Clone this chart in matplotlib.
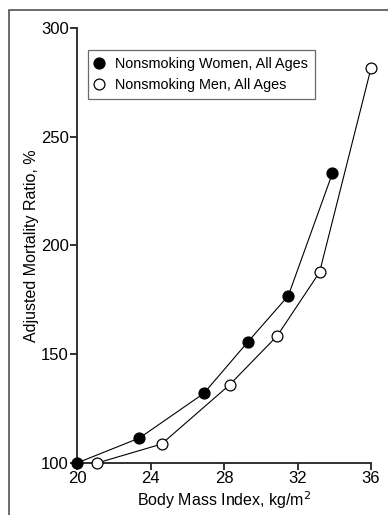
import matplotlib
matplotlib.use('Agg')
import matplotlib.pyplot as plt
from matplotlib.patches import Rectangle

# data
women_bmi = [20.0, 23.4, 26.9, 29.3, 31.5, 33.9]
women_ratio = [100, 111.5, 132, 155.7, 176.9, 233.2]
men_bmi = [21.1, 24.6, 28.3, 30.9, 33.2, 36.0]
men_ratio = [100, 108.7, 135.9, 158.5, 187.7, 281.5]
xticks = [20, 24, 28, 32, 36]
yticks = [100, 150, 200, 250, 300]

plt.rcParams['font.family'] = ['Liberation Sans Narrow', 'Liberation Sans', 'DejaVu Sans']
plt.rcParams['mathtext.fontset'] = 'custom'
plt.rcParams['mathtext.rm'] = 'Liberation Sans Narrow'
plt.rcParams['mathtext.it'] = 'Liberation Sans Narrow'

fig = plt.figure(figsize=(3.88, 5.15), dpi=100)
# outer frame (only left/top edges visible in the crop)
fig.patches.append(Rectangle((9 / 388, -0.1), 1.2, 1.1 - 10 / 515,
                             transform=fig.transFigure, fill=False,
                             edgecolor='#444444', linewidth=1.1))

ax = fig.add_axes([77 / 388, 1 - 463 / 515, (371 - 77) / 388, (463 - 28) / 515])
ax.plot(women_bmi, women_ratio, color='black', linewidth=0.8, marker='o',
        markersize=7.8, markerfacecolor='black', markeredgecolor='black',
        clip_on=False, zorder=3, label='Nonsmoking Women, All Ages')
ax.plot(men_bmi, men_ratio, color='black', linewidth=0.8, marker='o',
        markersize=7.8, markerfacecolor='white', markeredgecolor='black',
        markeredgewidth=0.9, clip_on=False, zorder=3,
        label='Nonsmoking Men, All Ages')

ax.set_xlim(20, 36); ax.set_ylim(100, 300)
ax.set_xticks(xticks); ax.set_yticks(yticks)
for s in ['top', 'right']:
    ax.spines[s].set_visible(False)
for s in ['left', 'bottom']:
    ax.spines[s].set_linewidth(1.3)
    ax.spines[s].set_color('#222222')
ax.tick_params(direction='out', length=5, width=1.3, labelsize=12, pad=1,
               color='#222222')
ax.set_xlabel('Body Mass Index, kg/m$^2$', fontsize=11.5, labelpad=2)
ax.set_ylabel('Adjusted Mortality Ratio, %', fontsize=11.5, labelpad=1)

leg = ax.legend(loc='upper left', bbox_to_anchor=(0.037, 0.949), fontsize=10.4,
                frameon=True, fancybox=False, handlelength=0.6,
                handletextpad=0.8, borderpad=0.5, labelspacing=0.45,
                borderaxespad=0)
leg.get_frame().set_edgecolor('#444444')
leg.get_frame().set_linewidth(0.9)
for h in leg.legend_handles:
    h.set_linestyle('none')

fig.savefig('out.png', dpi=100, facecolor='white')
